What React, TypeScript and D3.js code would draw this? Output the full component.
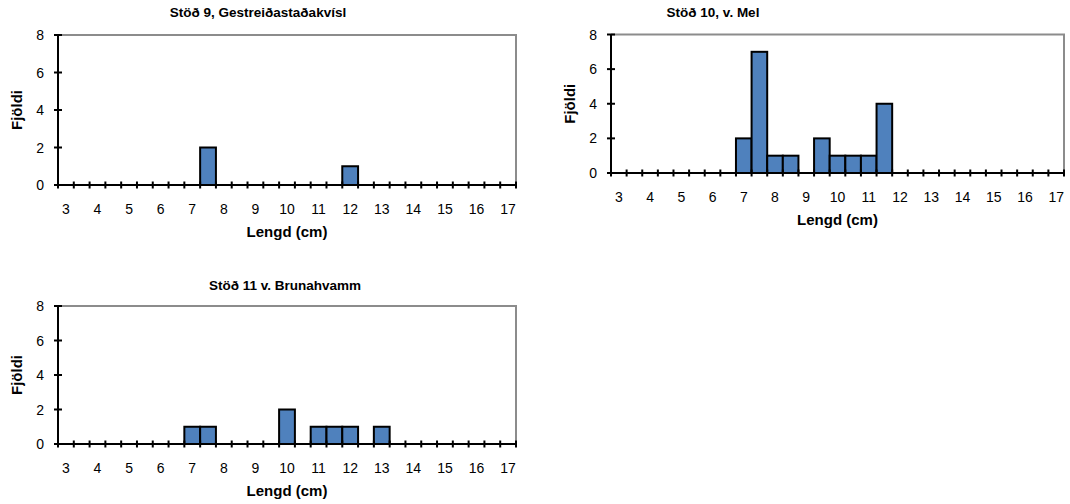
import React from "react";
import * as d3 from "d3";

const categories = ["3","3.5","4","4.5","5","5.5","6","6.5","7","7.5","8","8.5","9","9.5","10","10.5","11","11.5","12","12.5","13","13.5","14","14.5","15","15.5","16","16.5","17"];
const tickLabels = ["3","4","5","6","7","8","9","10","11","12","13","14","15","16","17"];
const yTicks = [0, 2, 4, 6, 8];

const titles = ["Stöð 9, Gestreiðastaðakvísl", "Stöð 10, v. Mel", "Stöð 11 v. Brunahvamm"];
const station9 = [0,0,0,0,0,0,0,0,0,2,0,0,0,0,0,0,0,0,1,0,0,0,0,0,0,0,0,0,0];
const station10 = [0,0,0,0,0,0,0,0,2,7,1,1,0,2,1,1,1,4,0,0,0,0,0,0,0,0,0,0,0];
const station11 = [0,0,0,0,0,0,0,0,1,1,0,0,0,0,2,0,1,1,1,0,1,0,0,0,0,0,0,0,0];
const xTitle = "Lengd (cm)";
const yTitle = "Fjöldi";

const FONT = "'Liberation Sans', Arial, sans-serif";
const BAR = "#4F81BD";

type PanelProps = {
  title: string;
  values: number[];
  left: number; right: number; top: number; bottom: number;
  titleX: number; titleY: number;
  yTitleX: number;
};

function Panel({ title, values, left, right, top, bottom, titleX, titleY, yTitleX }: PanelProps) {
  const x = d3.scaleBand<string>().domain(categories).range([left, right]).padding(0);
  const y = d3.scaleLinear().domain([0, 8]).range([bottom, top]);
  const bw = x.bandwidth();
  const boundaries = categories.map((c) => x(c) as number).concat([right]);
  return (
    <g>
      <text x={titleX} y={titleY} textAnchor="middle" fontFamily={FONT} fontWeight="bold" fontSize={13.5} fill="#000">{title}</text>
      <path d={`M${left},${top}H${right}V${bottom}`} fill="none" stroke="#8c8c8c" strokeWidth={2} />
      {values.map((v, i) =>
        v > 0 ? (
          <rect key={i} x={x(categories[i])} y={y(v)} width={bw} height={y(0) - y(v)} fill={BAR} stroke="#000" strokeWidth={2} />
        ) : null
      )}
      <line x1={left} x2={left} y1={top} y2={bottom} stroke="#000" strokeWidth={2} />
      <line x1={left} x2={right} y1={bottom} y2={bottom} stroke="#000" strokeWidth={2} />
      {boundaries.map((bx, i) => (
        <line key={"xt" + i} x1={bx} x2={bx} y1={bottom - 3.5} y2={bottom + 3.5} stroke="#000" strokeWidth={2} />
      ))}
      {yTicks.map((t) => (
        <g key={"yt" + t}>
          <line x1={left - 4} x2={left + 4} y1={y(t)} y2={y(t)} stroke="#000" strokeWidth={2} />
          <text x={left - 14} y={y(t)} dy="0.36em" textAnchor="end" fontFamily={FONT} fontSize={14} fill="#000">{t}</text>
        </g>
      ))}
      {tickLabels.map((lab) => (
        <text key={"xl" + lab} x={(x(lab) as number) + bw / 2} y={bottom + 24} dy="0.36em" textAnchor="middle" fontFamily={FONT} fontSize={14} fill="#000">{lab}</text>
      ))}
      <text x={(left + right) / 2} y={bottom + 47} dy="0.36em" textAnchor="middle" fontFamily={FONT} fontWeight="bold" fontSize={15} fill="#000">{xTitle}</text>
      <text transform={`translate(${yTitleX},${(top + bottom) / 2}) rotate(-90)`} dy="0.36em" textAnchor="middle" fontFamily={FONT} fontWeight="bold" fontSize={15} fill="#000">{yTitle}</text>
    </g>
  );
}

export default function App() {
  return (
    <svg width={1070} height={504} style={{ position: "absolute", left: 0, top: 0, background: "#fff" }}>
      <rect width={1070} height={504} fill="#fff" />
      <Panel title={titles[0]} values={station9} left={58} right={516} top={35} bottom={185} titleX={258} titleY={17} yTitleX={17} />
      <Panel title={titles[1]} values={station10} left={611} right={1064} top={34.5} bottom={173} titleX={713} titleY={17} yTitleX={570} />
      <Panel title={titles[2]} values={station11} left={58} right={516} top={306} bottom={444} titleX={285} titleY={290} yTitleX={17} />
    </svg>
  );
}
